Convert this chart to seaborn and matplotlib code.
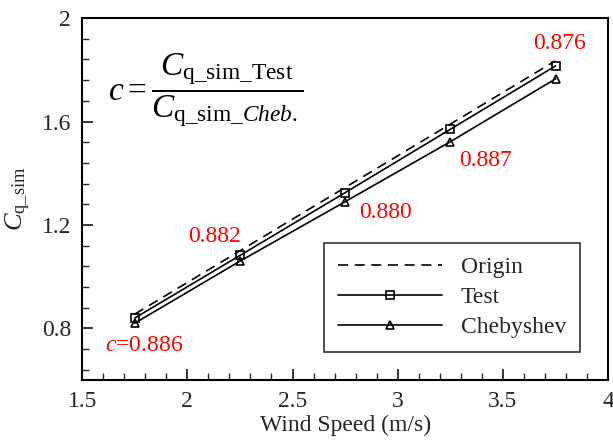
import matplotlib
matplotlib.use("Agg")
import matplotlib.pyplot as plt
import seaborn as sns
import pandas as pd
from matplotlib.ticker import MultipleLocator

wind_speed = [1.75, 2.25, 2.75, 3.25, 3.75]
origin = [0.855, 1.100, 1.345, 1.590, 1.835]
test = [0.840, 1.082, 1.325, 1.570, 1.815]
cheb = [0.820, 1.060, 1.290, 1.522, 1.765]
ratio_labels = ["c=0.886", "0.882", "0.880", "0.887", "0.876"]
label_pos_x = [1.795, 2.13, 2.94, 3.415, 3.77]
label_pos_y = [0.734, 1.154, 1.25, 1.451, 1.903]

sns.set_style("ticks")
plt.rcParams['font.family'] = ['Liberation Serif', 'DejaVu Serif']
plt.rcParams['mathtext.fontset'] = 'custom'
plt.rcParams['mathtext.rm'] = 'Liberation Serif'
plt.rcParams['mathtext.it'] = 'Liberation Serif:italic'

fig = plt.figure(figsize=(6.13, 4.42), dpi=100)
ax = fig.add_axes([0.134, 0.140, 0.858, 0.819])

df = pd.DataFrame({"x": wind_speed, "Origin": origin, "Test": test, "Chebyshev": cheb})

sns.lineplot(data=df, x="x", y="Origin", ax=ax, color="black", lw=1.2,
             linestyle=(0, (6, 4)), label="Origin")
sns.lineplot(data=df, x="x", y="Test", ax=ax, color="black", lw=1.2,
             marker="s", markersize=6, markerfacecolor="none",
             markeredgecolor="black", markeredgewidth=1.2, label="Test")
sns.lineplot(data=df, x="x", y="Chebyshev", ax=ax, color="black", lw=1.2,
             marker="^", markersize=6, markerfacecolor="none",
             markeredgecolor="black", markeredgewidth=1.2, label="Chebyshev")

ax.set_xlim(1.5, 4)
ax.set_ylim(0.6, 2.0)
ax.set_xticks([1.5, 2, 2.5, 3, 3.5, 4])
ax.set_xticklabels(["1.5", "2", "2.5", "3", "3.5", "4"])
ax.set_yticks([0.8, 1.2, 1.6, 2.0])
ax.set_yticklabels(["0.8", "1.2", "1.6", "2"])
ax.xaxis.set_minor_locator(MultipleLocator(0.1))
ax.yaxis.set_minor_locator(MultipleLocator(0.08))
ax.tick_params(which="major", direction="in", length=8, width=1.3, labelsize=17, pad=8)
ax.tick_params(which="minor", direction="in", length=5, width=1.0)
for s in ax.spines.values():
    s.set_linewidth(1.5)
    s.set_color("black")

ax.set_xlabel("Wind Speed (m/s)", fontsize=17, labelpad=2)
ax.set_ylabel(r"$C_{\mathrm{q\_sim}}$", fontsize=19, labelpad=6)

for t, xx, yy in zip(ratio_labels, label_pos_x, label_pos_y):
    if t.startswith("c="):
        t = r"$c$=" + t[2:]
    ax.text(xx, yy, t, color="red", fontsize=17, ha="center", va="center")

ax.text(2.09, 1.72, r"$c=\dfrac{C_{\mathrm{q\_sim\_Test}}}{C_{\mathrm{q\_sim\_}\mathit{Cheb.}}}$",
        fontsize=24, ha="center", va="center", color="black")

leg = ax.legend(loc="lower right", bbox_to_anchor=(0.947, 0.077), borderaxespad=0,
                fontsize=17, frameon=True, fancybox=False, edgecolor="black",
                handlelength=4.4, borderpad=0.6, labelspacing=0.35, handletextpad=0.8)
leg.get_frame().set_linewidth(1.2)

fig.savefig("out.png", dpi=100)
